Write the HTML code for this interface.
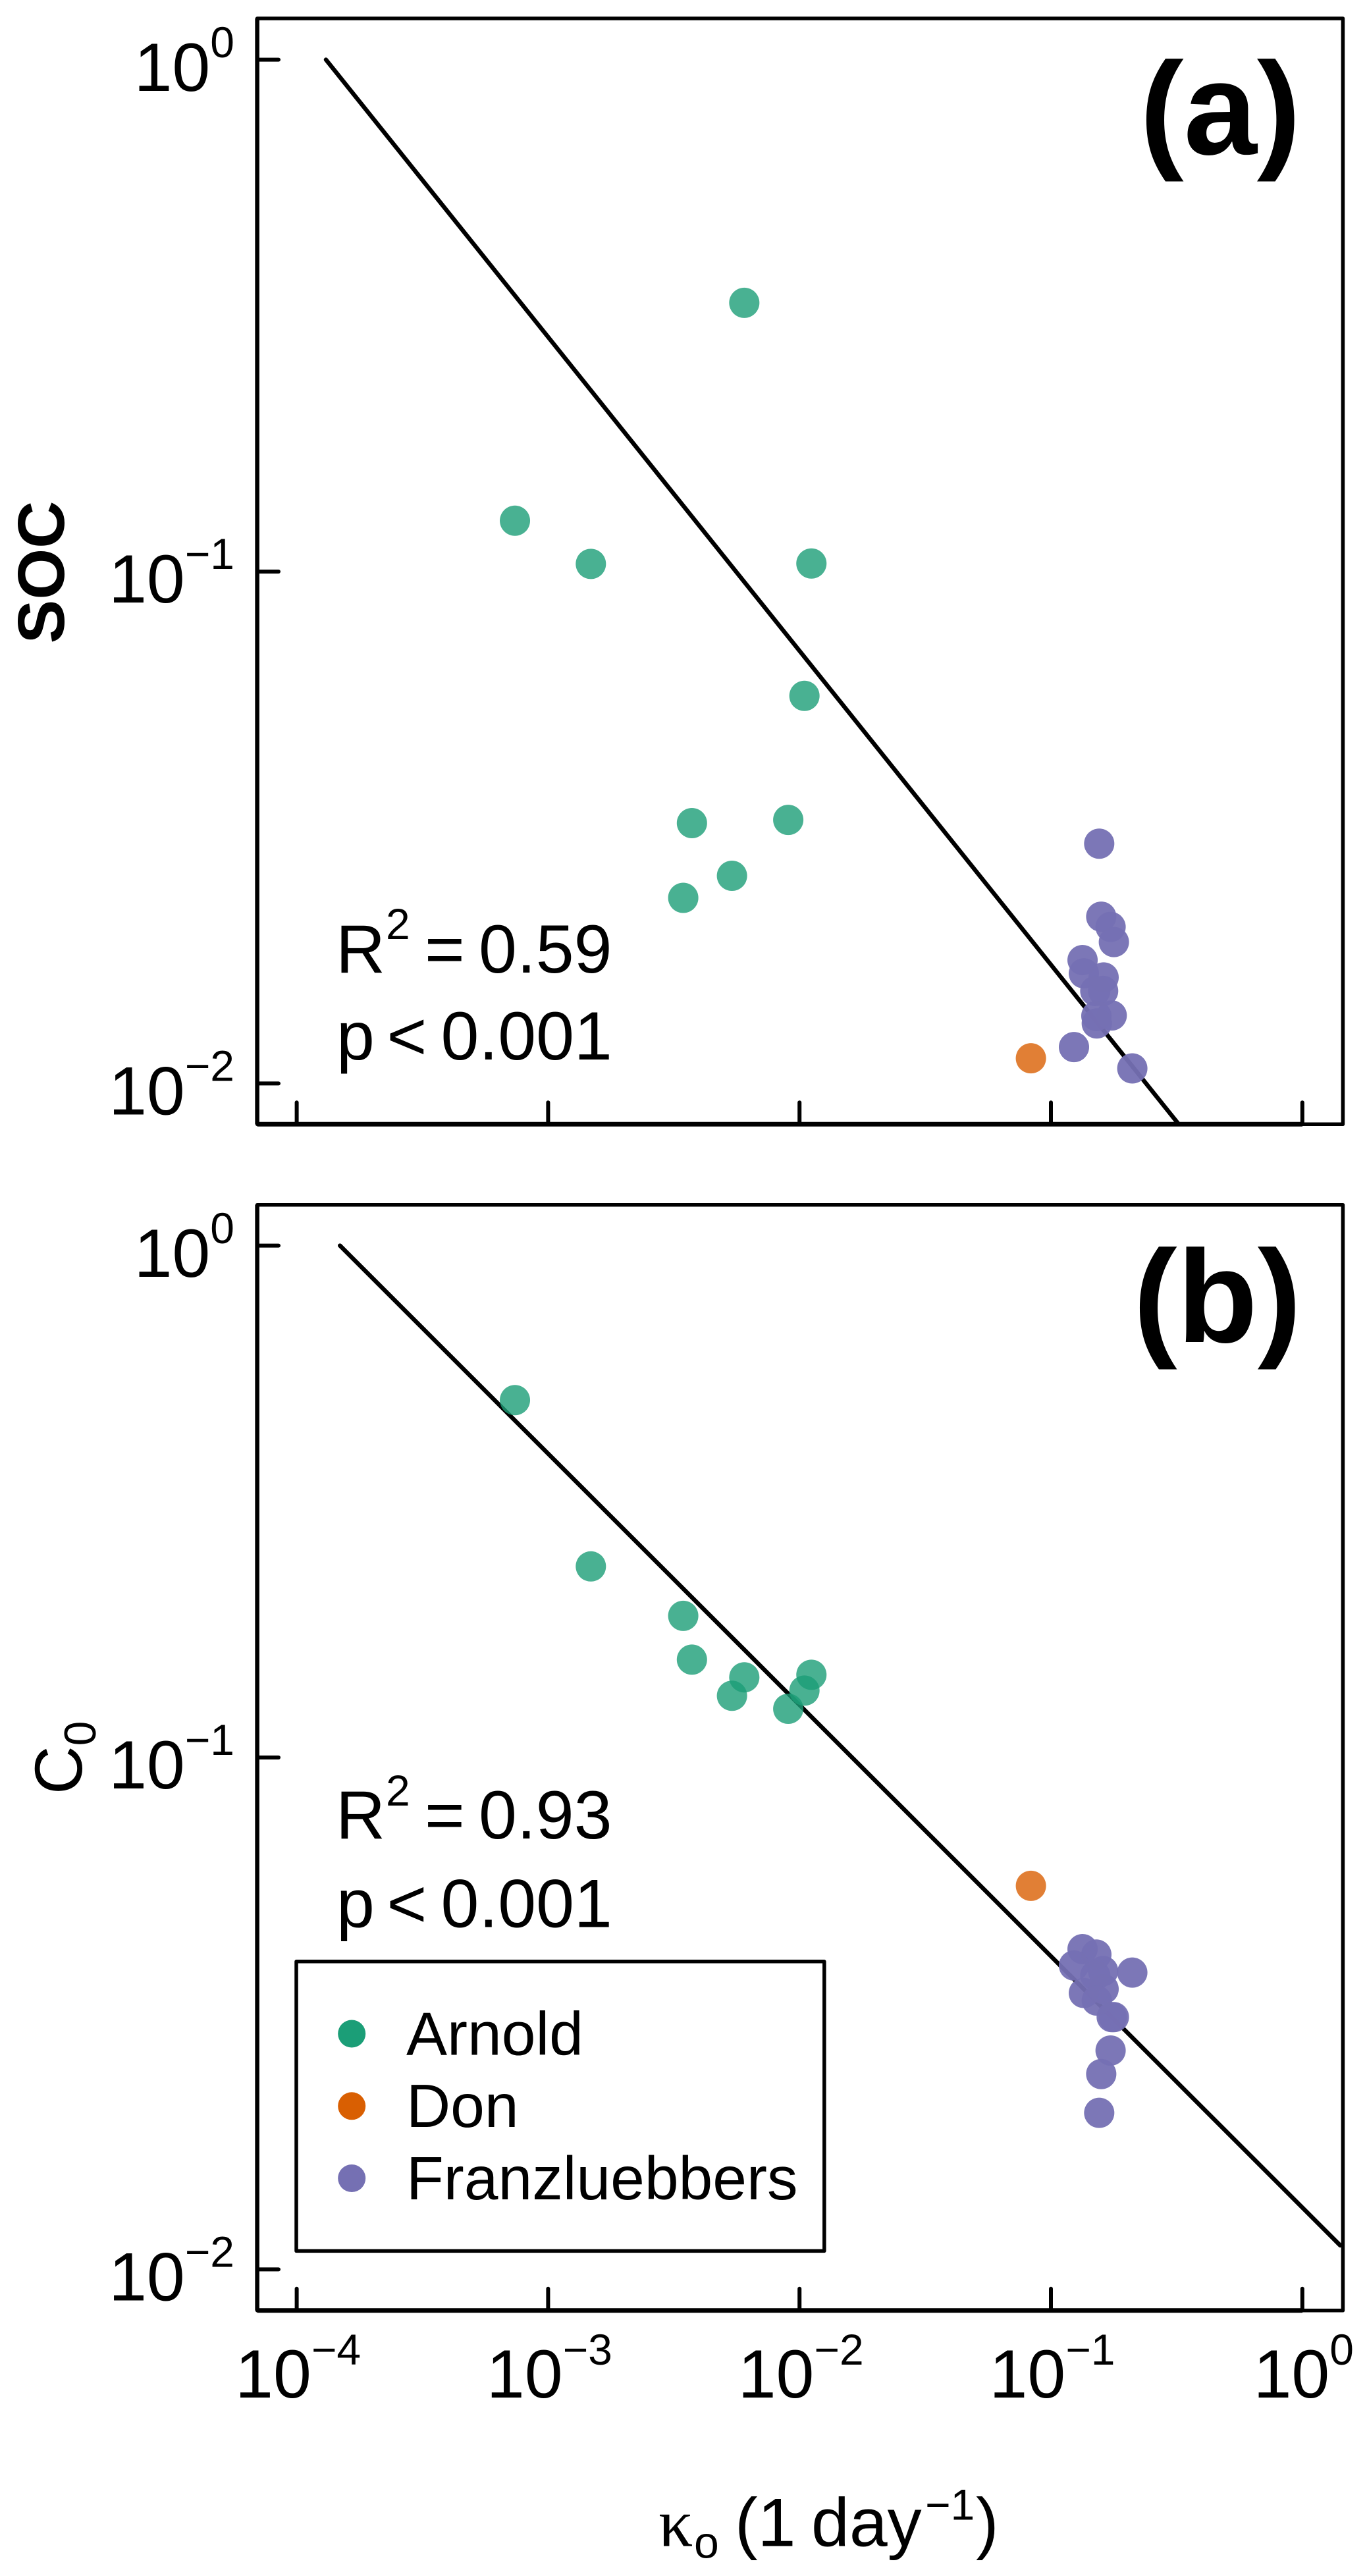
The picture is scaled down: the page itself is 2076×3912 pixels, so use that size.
<!DOCTYPE html>
<html lang="en">
<head>
<meta charset="utf-8">
<title>SOC and C0 versus decay rate</title>
<style>
html,body{margin:0;padding:0;background:#fff;}
svg{display:block;}
text{font-family:"Liberation Sans",Arial,sans-serif;fill:#000;}
</style>
</head>
<body>
<svg id="chart" xmlns="http://www.w3.org/2000/svg" width="2076" height="3912" viewBox="0 0 2076 3912">
  <rect x="0" y="0" width="2076" height="3912" fill="#fff"/>
  <defs>
    <clipPath id="clip-a"><rect x="390.6" y="28" width="1649" height="1679.3"/></clipPath>
    <clipPath id="clip-b"><rect x="390.6" y="1829.7" width="1649" height="1679.1"/></clipPath>
  </defs>
  <g id="panel-a"></g>
  <g id="panel-b"></g>

  <text x="1731" y="234" font-size="200" font-weight="700">(a)</text>
  <text x="1721" y="2038" font-size="200" font-weight="700">(b)</text>

  <text transform="translate(97,869) rotate(-90)" text-anchor="middle" font-size="100" font-weight="700">SOC</text>
  <text transform="translate(124,2725) rotate(-90)" font-size="102">C<tspan font-size="68" dy="21">0</tspan></text>

  <text y="1477" font-size="104"><tspan x="510">R</tspan><tspan x="586" dy="-51" font-size="66">2</tspan><tspan x="645" dy="51">=</tspan><tspan x="727">0.59</tspan></text>
  <text y="1609" font-size="104"><tspan x="511">p</tspan><tspan x="587.5">&lt;</tspan><tspan x="669.5">0.001</tspan></text>
  <text y="2792" font-size="104"><tspan x="510">R</tspan><tspan x="586" dy="-50" font-size="66">2</tspan><tspan x="645" dy="50">=</tspan><tspan x="727">0.93</tspan></text>
  <text y="2926.7" font-size="104"><tspan x="511">p</tspan><tspan x="587.5">&lt;</tspan><tspan x="669.5">0.001</tspan></text>

  <g>
    <rect x="450" y="2978.8" width="801.8" height="439.6" fill="#fff" stroke="#000" stroke-width="5.5" stroke-linejoin="round"/>
    <circle cx="534.2" cy="3088.5" r="21" fill="#1B9E77"/>
    <text x="617" y="3120.5" font-size="93">Arnold</text>
    <circle cx="534.2" cy="3198.3" r="21" fill="#D95F02"/>
    <text x="617" y="3230" font-size="93">Don</text>
    <circle cx="534.2" cy="3308" r="21" fill="#7570B3"/>
    <text x="617" y="3340" font-size="93">Franzluebbers</text>
  </g>

  <text y="3866.4" font-size="104"><tspan x="1000" font-family="'Liberation Serif',serif">κ</tspan><tspan x="1054" dy="18" font-size="68">o</tspan><tspan x="1116" dy="-18">(1</tspan><tspan x="1232">day</tspan><tspan x="1405" dy="-40" font-size="66">−1</tspan><tspan x="1482" dy="40">)</tspan></text>
</svg>
<script>
// Shared axis ticks
var xTickValues = [0.0001, 0.001, 0.01, 0.1, 1];
var xTickExponents = ["−4", "−3", "−2", "−1", "0"];
var yTickValues = [1, 0.1, 0.01];
var yTickExponents = ["0", "−1", "−2"];

// Decay rate (1/day) per dataset
var kappaArnold = [0.000738, 0.001479, 0.003447, 0.003733, 0.005387, 0.00603, 0.00902, 0.01046, 0.01115];
var kappaDon = [0.08325];
var kappaFranz = [0.1556, 0.1585, 0.1727, 0.178, 0.1336, 0.1352, 0.162, 0.1501, 0.1613, 0.1745, 0.1516, 0.1522, 0.1235, 0.2107];

// Panel (a): SOC
var socArnold = [0.1257, 0.1035, 0.02305, 0.03226, 0.02545, 0.335, 0.03273, 0.05717, 0.1037];
var socDon = [0.0112];
var socFranz = [0.02941, 0.02117, 0.02022, 0.01889, 0.01742, 0.01641, 0.01611, 0.01516, 0.01516, 0.01358, 0.01355, 0.0131, 0.01178, 0.0107];
var fitKappaA = [0.0001307, 0.322];
var fitSocA = [1, 0.00833];

// Panel (b): C0
var c0Arnold = [0.499, 0.2362, 0.1891, 0.1553, 0.132, 0.1434, 0.1245, 0.1351, 0.1451];
var c0Don = [0.05614];
var c0Franz = [0.02022, 0.02408, 0.02677, 0.03111, 0.04224, 0.03467, 0.03529, 0.03752, 0.03827, 0.03111, 0.04121, 0.03351, 0.03923, 0.03801];
var fitKappaB = [0.0001486, 1.415];
var fitC0B = [1, 0.01114];

var NS = "http://www.w3.org/2000/svg";

function xScale(v) {
  return 450.6 + 381.8 * (Math.log10(v) + 4);
}
function yScale(v, y0) {
  return y0 - 777.4 * Math.log10(v);
}
function svgEl(tag, parent) {
  var el = document.createElementNS(NS, tag);
  parent.appendChild(el);
  return el;
}
function drawFrame(g, name, top, bottom) {
  var frame = svgEl("rect", g);
  
  
  frame.setAttribute("x", 390.6);
  frame.setAttribute("y", top);
  frame.setAttribute("width", 1648.8);
  frame.setAttribute("height", bottom - top);
  frame.setAttribute("fill", "none");
  frame.setAttribute("stroke", "#000");
  frame.setAttribute("stroke-width", 5.5);
  frame.setAttribute("stroke-linejoin", "round");
}
function drawAxes(g, name, y0, top, bottom, showXLabels) {
  var left = svgEl("line", g);
  
  
  left.setAttribute("x1", 390.6);
  left.setAttribute("x2", 390.6);
  left.setAttribute("y1", top);
  left.setAttribute("y2", bottom);
  left.setAttribute("stroke", "#000");
  left.setAttribute("stroke-width", 6.5);

  var base = svgEl("line", g);
  
  
  base.setAttribute("x1", 390.6);
  base.setAttribute("x2", xScale(xTickValues[xTickValues.length - 1]));
  base.setAttribute("y1", bottom);
  base.setAttribute("y2", bottom);
  base.setAttribute("stroke", "#000");
  base.setAttribute("stroke-width", 7);

  xTickValues.forEach(function (v, i) {
    var t = svgEl("line", g);
    
    
    t.setAttribute("x1", xScale(v));
    t.setAttribute("x2", xScale(v));
    t.setAttribute("y1", bottom);
    t.setAttribute("y2", bottom - 33);
    t.setAttribute("stroke", "#000");
    t.setAttribute("stroke-width", 6);
    t.setAttribute("stroke-linecap", "round");
    if (showXLabels) {
      var lab = svgEl("text", g);
      
      
      lab.setAttribute("x", xScale(v) + 2);
      lab.setAttribute("y", 3641);
      lab.setAttribute("font-size", 104);
      lab.setAttribute("text-anchor", "middle");
      lab.appendChild(document.createTextNode("10"));
      var sup = svgEl("tspan", lab);
      sup.setAttribute("font-size", 66);
      sup.setAttribute("dy", -50);
      sup.textContent = xTickExponents[i];
    }
  });

  yTickValues.forEach(function (v, i) {
    var py = yScale(v, y0);
    var t = svgEl("line", g);
    
    
    t.setAttribute("x1", 390.6);
    t.setAttribute("x2", 423);
    t.setAttribute("y1", py);
    t.setAttribute("y2", py);
    t.setAttribute("stroke", "#000");
    t.setAttribute("stroke-width", 6);
    t.setAttribute("stroke-linecap", "round");
    var lab = svgEl("text", g);
    
    
    lab.setAttribute("x", 356);
    lab.setAttribute("y", py + 47.2);
    lab.setAttribute("font-size", 104);
    lab.setAttribute("text-anchor", "end");
    lab.appendChild(document.createTextNode("10"));
    var sup = svgEl("tspan", lab);
    sup.setAttribute("font-size", 66);
    sup.setAttribute("dy", -51);
    sup.textContent = yTickExponents[i];
  });
}
function drawFit(g, name, clipId, xs, ys, y0) {
  var line = svgEl("line", g);
  
  
  line.setAttribute("x1", xScale(xs[0]));
  line.setAttribute("y1", yScale(ys[0], y0));
  line.setAttribute("x2", xScale(xs[1]));
  line.setAttribute("y2", yScale(ys[1], y0));
  line.setAttribute("stroke", "#000");
  line.setAttribute("stroke-width", 6.5);
  line.setAttribute("stroke-linecap", "round");
  line.setAttribute("clip-path", "url(#" + clipId + ")");
}
function drawPoints(g, name, xs, ys, y0, color, alpha) {
  xs.forEach(function (v, i) {
    var c = svgEl("circle", g);
    
    
    c.setAttribute("cx", xScale(v));
    c.setAttribute("cy", yScale(ys[i], y0));
    c.setAttribute("r", 23);
    c.setAttribute("fill", color);
    c.setAttribute("fill-opacity", alpha);
  });
}

var panelA = document.getElementById("panel-a");
var panelB = document.getElementById("panel-b");
var y0A = 90.6;
var y0B = 1891.6;

drawFrame(panelA, "panel-a", 28, 1707.3);
drawAxes(panelA, "panel-a", y0A, 28, 1707.3, false);
drawFit(panelA, "panel-a", "clip-a", fitKappaA, fitSocA, y0A);
drawPoints(panelA, "arnold-soc", kappaArnold, socArnold, y0A, "#1B9E77", 0.8);
drawPoints(panelA, "don-soc", kappaDon, socDon, y0A, "#D95F02", 0.8);
drawPoints(panelA, "franzluebbers-soc", kappaFranz, socFranz, y0A, "#7570B3", 0.95);

drawFrame(panelB, "panel-b", 1829.7, 3508.8);
drawAxes(panelB, "panel-b", y0B, 1829.7, 3508.8, true);
drawFit(panelB, "panel-b", "clip-b", fitKappaB, fitC0B, y0B);
drawPoints(panelB, "arnold-c0", kappaArnold, c0Arnold, y0B, "#1B9E77", 0.8);
drawPoints(panelB, "don-c0", kappaDon, c0Don, y0B, "#D95F02", 0.8);
drawPoints(panelB, "franzluebbers-c0", kappaFranz, c0Franz, y0B, "#7570B3", 0.95);
</script>
</body>
</html>
